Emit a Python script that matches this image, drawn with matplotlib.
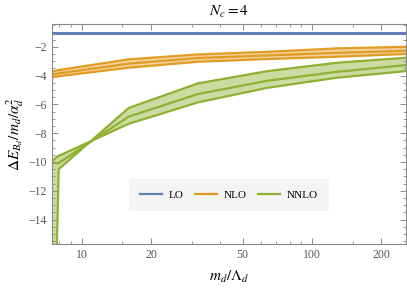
import numpy as np
import matplotlib
matplotlib.use('Agg')
import matplotlib.pyplot as plt
from matplotlib.ticker import FixedLocator, NullFormatter

# data
m_ratio = [7.41, 7.9, 16, 32, 64, 128, 256]

lo_val = -1.05

nlo_hi = [-3.72, -3.62, -2.87, -2.53, -2.35, -2.11, -2.0]
nlo_mid = [-3.93, -3.85, -3.17, -2.78, -2.6, -2.42, -2.28]
nlo_lo = [-4.13, -4.05, -3.45, -3.04, -2.85, -2.69, -2.5]

# NNLO band edges (they cross between the first points and 16)
nnlo_a_x = [7.41, 7.8, 16, 32, 64, 128, 256]
nnlo_a = [-9.98, -9.64, -7.35, -5.86, -4.85, -4.15, -3.69]
nnlo_b_x = [7.41, 7.95, 16, 32, 64, 128, 256]
nnlo_b = [-30.0, -10.5, -6.25, -4.54, -3.69, -3.11, -2.76]
nnlo_mid_x = [7.41, 7.9, 16, 32, 64, 128, 256]
nnlo_mid = [-10.05, -10.1, -6.85, -5.28, -4.36, -3.74, -3.27]

x_major = [10, 20, 50, 100, 200]
x_minor = [8, 9, 15, 30, 40, 60, 70, 80, 90, 150]

c_lo = '#5E81B5'
c_nlo = '#E19C24'
c_nnlo = '#8FB032'
frame_col = '#8a8a8a'

plt.rcParams['font.family'] = ['Liberation Serif', 'DejaVu Serif']
plt.rcParams['mathtext.fontset'] = 'stix'

fig = plt.figure(figsize=(4.07, 2.94), dpi=100)
ax = fig.add_axes([0.127, 0.170, 0.8705, 0.7467])

x = np.array(m_ratio)

ax.fill_between(x, nlo_hi, nlo_lo, color=c_nlo, alpha=0.45, lw=0)
poly_x = np.concatenate([nnlo_a_x, nnlo_b_x[::-1]])
poly_y = np.concatenate([nnlo_a, nnlo_b[::-1]])
ax.fill(poly_x, poly_y, color=c_nnlo, alpha=0.45, lw=0)

for ys in (nlo_hi, nlo_mid, nlo_lo):
    ax.plot(x, ys, color=c_nlo, lw=1.6)
ax.plot(nnlo_a_x, nnlo_a, color=c_nnlo, lw=1.6)
ax.plot(nnlo_mid_x, nnlo_mid, color=c_nnlo, lw=1.6)
ax.plot(nnlo_b_x, nnlo_b, color=c_nnlo, lw=1.6)
ax.plot([x[0], x[-1]], [lo_val, lo_val], color=c_lo, lw=2.2)

ax.set_xscale('log')
ax.set_xlim(x[0], x[-1])
ax.set_ylim(-15.7, -0.45)

ax.xaxis.set_major_locator(FixedLocator(x_major))
ax.xaxis.set_minor_locator(FixedLocator(x_minor))
ax.xaxis.set_minor_formatter(NullFormatter())
ax.set_xticklabels([str(v) for v in x_major])
ax.set_yticks([-2, -4, -6, -8, -10, -12, -14])
ax.set_yticklabels(['\u22122', '\u22124', '\u22126', '\u22128', '\u221210', '\u221212', '\u221214'])
ax.yaxis.set_minor_locator(FixedLocator(np.arange(-15.5, -0.4, 0.5)))

ax.tick_params(which='both', direction='in', top=True, right=True, color=frame_col,
               labelcolor='#555555', labelsize=8.5)
ax.tick_params(which='major', length=4, width=0.7)
ax.tick_params(which='minor', length=2, width=0.6)
for s in ax.spines.values():
    s.set_color(frame_col)
    s.set_linewidth(0.8)

ax.set_title(r'$N_c = 4$', fontsize=11, pad=6)
ax.set_xlabel(r'$m_d/\Lambda_d$', fontsize=11, labelpad=6)
ax.set_ylabel(r'$\Delta E_{B_d}/m_d/\alpha_d^2$', fontsize=11, labelpad=2)

handles = [plt.Line2D([], [], color=c, lw=1.6) for c in (c_lo, c_nlo, c_nnlo)]
leg = ax.legend(handles, ['LO', 'NLO', 'NNLO'], loc='center', bbox_to_anchor=(0.5, 0.223),
                ncol=3, frameon=True, fancybox=False, fontsize=8, handlelength=2.0,
                handletextpad=0.6, columnspacing=1.0, borderpad=1.0)
leg.get_frame().set_facecolor('#f2f2f2')
leg.get_frame().set_edgecolor('none')

fig.savefig('out.png', dpi=100)
